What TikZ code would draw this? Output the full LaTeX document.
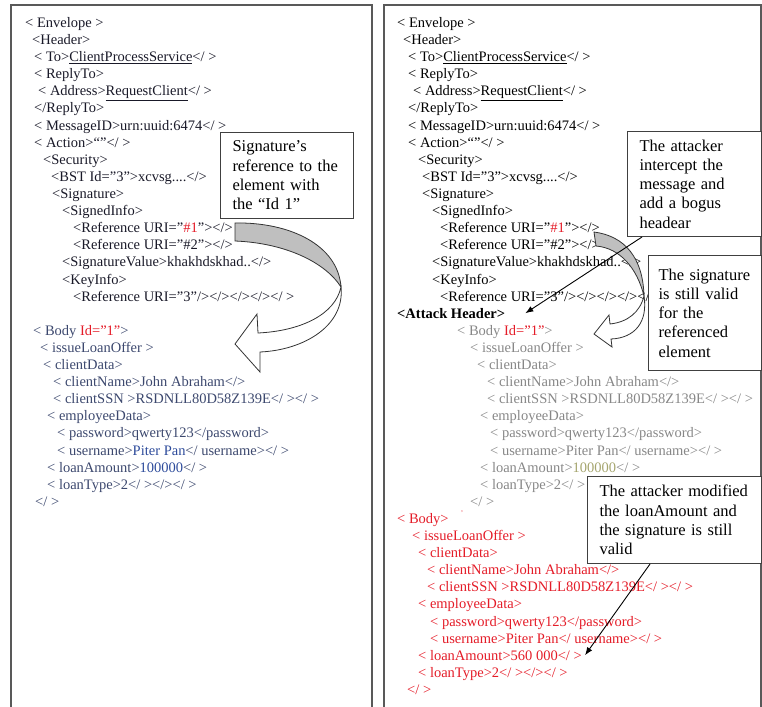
\documentclass[tikz,border=0pt]{standalone}
\usepackage{fontspec}
\setmainfont{Liberation Serif}
\usetikzlibrary{arrows.meta}
\definecolor{xred}{RGB}{228,28,40}
\definecolor{xink}{RGB}{25,25,40}
\definecolor{xslate}{RGB}{60,72,110}
\definecolor{xblue}{RGB}{45,75,155}
\definecolor{xgray}{RGB}{135,135,135}
\definecolor{xolive}{RGB}{165,165,110}
\newcommand{\xmlfont}{\fontsize{14.5}{17.1}\selectfont}
\newcommand{\notefont}{\fontsize{16.5}{19.3}\selectfont}
\tikzset{
  xmlline/.style={anchor=base west,inner sep=0pt,font=\xmlfont},
  callout/.style={draw=black!75,fill=white,line width=1pt,anchor=north west,align=left,inner xsep=12pt,inner ysep=0pt,font=\notefont},
  panel/.style={draw=black!65,line width=1.6pt},
  ribbonback/.style={draw=black!80,fill=black!25,line width=0.8pt},
  ribbonfront/.style={draw=black!80,fill=white,line width=0.8pt},
  pointer/.style={-{Latex[length=8pt,width=6pt]},line width=0.9pt}
}
\begin{document}
\begin{tikzpicture}[x=1pt,y=-1pt]
\pgfmathsetmacro{\lntop}{27.5}
\pgfmathsetmacro{\lnstep}{17.1}
\useasboundingbox(0,0) rectangle (762,706);
\draw[panel](11,5) rectangle (372,724);
\draw[panel](384,5) rectangle (761,724);
% original message
\foreach \n/\lx/\ltx in {0/25/{< Envelope >},1/32/{<Header>},2/34/{< To>\underline{ClientProcessService}</ >},3/34/{< ReplyTo>},4/38/{< Address>\underline{RequestClient}</ >},5/34/{</ReplyTo>},6/34/{< MessageID>urn:uuid:6474</ >},7/34/{< Action>“”</ >},8/43/{<Security>}}{\node[xmlline,text=xink](l\n) at (\lx,\lntop+\n*\lnstep){\ltx};}
\foreach \n/\lx/\ltx in {9/51/{<BST Id="3">xcvsg....</>},10/52/{<Signature>},11/62/{<SignedInfo>},12/73/{<Reference URI="\textcolor{xred}{\#1}"></>},13/73/{<Reference URI="\#2"></>},14/62/{<SignatureValue>khakhdskhad..</>},15/62/{<KeyInfo>},16/73/{<Reference URI="3"/></></></></ >}}{\node[xmlline,text=xink](l\n) at (\lx,\lntop+\n*\lnstep){\ltx};}
\foreach \n/\lx/\ltx in {18/33/{< Body \textcolor{xred}{Id="1"}>},19/40/{< issueLoanOffer >},20/43/{< clientData>},21/53/{< clientName>John Abraham</>},22/53/{< clientSSN >RSDNLL80D58Z139E</ ></ >},23/47/{< employeeData>},24/57/{< password>qwerty123</password>},25/57/{< username>\textcolor{xblue}{Piter Pan}</ username></ >},26/47/{< loanAmount>\textcolor{xblue}{100000}</ >},27/47/{< loanType>2</ ></></ >},28/35/{</ >}}{\node[xmlline,text=xslate](l\n) at (\lx,\lntop+\n*\lnstep){\ltx};}
% attacked message
\foreach \n/\lx/\ltx in {0/397/{< Envelope >},1/403/{<Header>},2/408/{< To>\underline{ClientProcessService}</ >},3/408/{< ReplyTo>},4/413/{< Address>\underline{RequestClient}</ >},5/408/{</ReplyTo>},6/408/{< MessageID>urn:uuid:6474</ >},7/408/{< Action>“”</ >},8/418/{<Security>}}{\node[xmlline,text=black](r\n) at (\lx,\lntop+\n*\lnstep){\ltx};}
\foreach \n/\lx/\ltx in {9/422/{<BST Id="3">xcvsg....</>},10/422/{<Signature>},11/432/{<SignedInfo>},12/440/{<Reference URI="\textcolor{xred}{\#1}"></>},13/440/{<Reference URI="\#2"></>},14/432/{<SignatureValue>khakhdskhad..</>},15/432/{<KeyInfo>},16/440/{<Reference URI="3"/></></></></ >},17/397/{\textbf{<Attack Header>}}}{\node[xmlline,text=black](r\n) at (\lx,\lntop+\n*\lnstep){\ltx};}
\foreach \n/\lx/\ltx in {18/457/{< Body \textcolor{xred}{Id="1"}>},19/470/{< issueLoanOffer >},20/477/{< clientData>},21/487/{< clientName>John Abraham</>},22/487/{< clientSSN >RSDNLL80D58Z139E</ ></ >},23/480/{< employeeData>},24/490/{< password>qwerty123</password>},25/490/{< username>Piter Pan</ username></ >},26/480/{< loanAmount>\textcolor{xolive}{100000}</ >},27/480/{< loanType>2</ >},28/470/{</ >}}{\node[xmlline,text=xgray](r\n) at (\lx,\lntop+\n*\lnstep){\ltx};}
\foreach \n/\lx/\ltx in {29/397/{< Body>},30/412/{< issueLoanOffer >},31/418/{< clientData>},32/427/{< clientName>John Abraham</>},33/427/{< clientSSN >RSDNLL80D58Z139E</ ></ >},34/418/{< employeeData>},35/430/{< password>qwerty123</password>},36/430/{< username>Piter Pan</ username></ >},37/418/{< loanAmount>560 000</ >},38/418/{< loanType>2</ ></></ >},39/407/{</ >}}{\node[xmlline,text=xred](r\n) at (\lx,\lntop+\n*\lnstep){\ltx};}
\node[text=xred,font=\scriptsize,inner sep=0pt](tick) at (462,513){'};
% curved arrows
\draw[ribbonback](235,223) .. controls (290,222) and (338,245) .. (341,287) .. controls (325,262) and (285,243) .. (235,241) -- cycle;
\draw[ribbonfront](341,287) .. controls (345,325) and (305,350) .. (260,352) -- (260,372) -- (235,344) -- (257,314) -- (258,333) .. controls (300,331) and (335,315) .. (341,287) -- cycle;
\draw[ribbonback](594,232) .. controls (625,236) and (643,258) .. (644,296) .. controls (637,268) and (620,248) .. (596,246) -- cycle;
\draw[ribbonfront](644,296) .. controls (648,322) and (635,338) .. (611,339) -- (612,347) -- (594,334) -- (609,315) -- (610,324) .. controls (628,322) and (640,312) .. (644,296) -- cycle;
% notes
\node[callout,text width=109pt,minimum height=86pt](sigref) at (220,132){Signature’s\\reference to the\\element with\\the “Id 1”};
\node[callout,text width=110pt,minimum height=105pt](intercept) at (627,131){The attacker\\intercept the\\message and\\add a bogus\\headear};
\node[callout,inner xsep=10pt,text width=93pt,minimum height=115pt](stillvalid) at (648,255){The signature\\is still valid\\for the\\referenced\\element};
\node[callout,text width=150pt,minimum height=87pt](modified) at (587,476){The attacker modified\\the loanAmount and\\the signature is still\\valid};
\draw[pointer]([xshift=15pt]intercept.south west) -- ([xshift=20pt]r17.east);
\draw[pointer]([xshift=63pt]modified.south west) -- ([xshift=3pt]r37.east);
\end{tikzpicture}
\end{document}
